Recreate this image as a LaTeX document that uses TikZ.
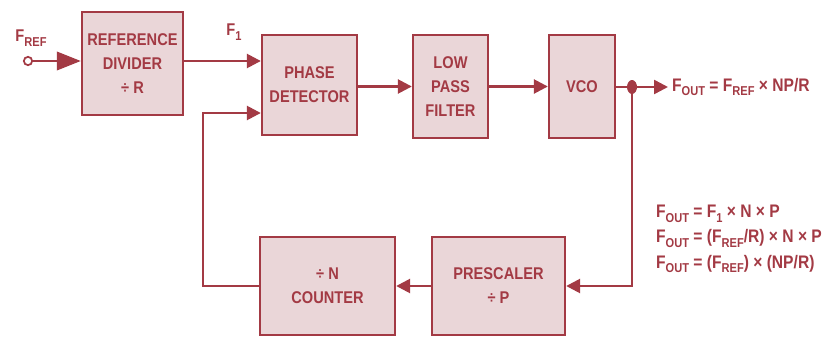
\documentclass[tikz,border=0pt]{standalone}
\usepackage{fontspec}
\setmainfont{Liberation Sans}[FakeStretch=0.86]
\usepackage{xcolor}
\usetikzlibrary{arrows.meta,positioning}
\definecolor{PLLRed}{HTML}{A33A44}
\definecolor{PLLPink}{HTML}{EAD6D8}
\newcommand{\pllsub}[1]{\raisebox{-0.5ex}{\fontsize{11}{11}\selectfont #1}}

\begin{document}
\begin{tikzpicture}[x=0.03cm,y=-0.03cm,
    font=\bfseries\fontsize{14.5}{20.5}\selectfont,text=PLLRed,
    block/.style={draw=PLLRed,fill=PLLPink,line width=2pt,align=center,inner sep=0pt},
    eqtext/.style={font=\bfseries\fontsize{15.5}{21.5}\selectfont},
    wire/.style={draw=PLLRed,line width=2.2pt},
    sig/.style={-{Triangle[length=0.42cm,width=0.42cm]}},
    sigbig/.style={-{Triangle[length=0.72cm,width=0.55cm]}}]
  \path[use as bounding box] (0,0) rectangle (830,337);

  % Forward path: divider, detector, filter and oscillator.
  \node[block,minimum width=3.03cm,minimum height=3.09cm] (refdiv) at (132.5,63.5)
    {REFERENCE\\DIVIDER\\÷ R};
  \node[block,minimum width=2.85cm,minimum height=3.0cm] (pd) at (309.5,85)
    {PHASE\\DETECTOR};
  \node[block,minimum width=2.25cm,minimum height=3.09cm] (lpf) at (450.5,86.5)
    {LOW\\PASS\\FILTER};
  \node[block,minimum width=1.98cm,minimum height=3.09cm] (vco) at (582,86.5)
    {VCO};

  % Feedback path.
  \node[block,minimum width=4.05cm,minimum height=2.94cm] (nc) at (327.5,286)
    {÷ N\\COUNTER};
  \node[block,minimum width=3.99cm,minimum height=2.94cm] (pre) at (498.5,286)
    {PRESCALER\\÷ P};

  % Input and labels.
  \node[circle,draw=PLLRed,line width=1.5pt,fill=white,inner sep=0pt,
    minimum size=0.25cm] (in) at (28,61) {};
  \node (fref) at (31,38) {F\pllsub{REF}};
  \node (f1) at (234,32) {F\pllsub{1}};
  \coordinate (jn) at (632,87);
  \coordinate (fb) at (203,113);
  \node[eqtext,anchor=west] (fout) at (668,87) {F\pllsub{OUT} = F\pllsub{REF} × NP/R};
  \node[eqtext,anchor=north west,align=left] (eqs) at (652,201)
    {F\pllsub{OUT} = F\pllsub{1} × N × P\\
     F\pllsub{OUT} = (F\pllsub{REF}/R) × N × P\\
     F\pllsub{OUT} = (F\pllsub{REF}) × (NP/R)};

  % Connectors.
  \draw[wire,sigbig] (in) -- (in -| refdiv.west);
  \draw[wire,sig] (refdiv.east |- in) -- (pd.west |- in);
  \draw[wire,sig] (pd.east |- lpf) -- (lpf.west);
  \draw[wire,sig] (lpf) -- (vco.west);
  \draw[wire,sig] (vco.east |- jn) -- (fout.west);
  \draw[wire,sig] (jn) |- (pre.east);
  \draw[wire,sig] (pre.west) -- (nc.east);
  \draw[wire,sig] (nc.west) -| (fb) -- (fb -| pd.west);
  \fill[PLLRed] (jn) ellipse [x radius=5,y radius=7];
\end{tikzpicture}
\end{document}
